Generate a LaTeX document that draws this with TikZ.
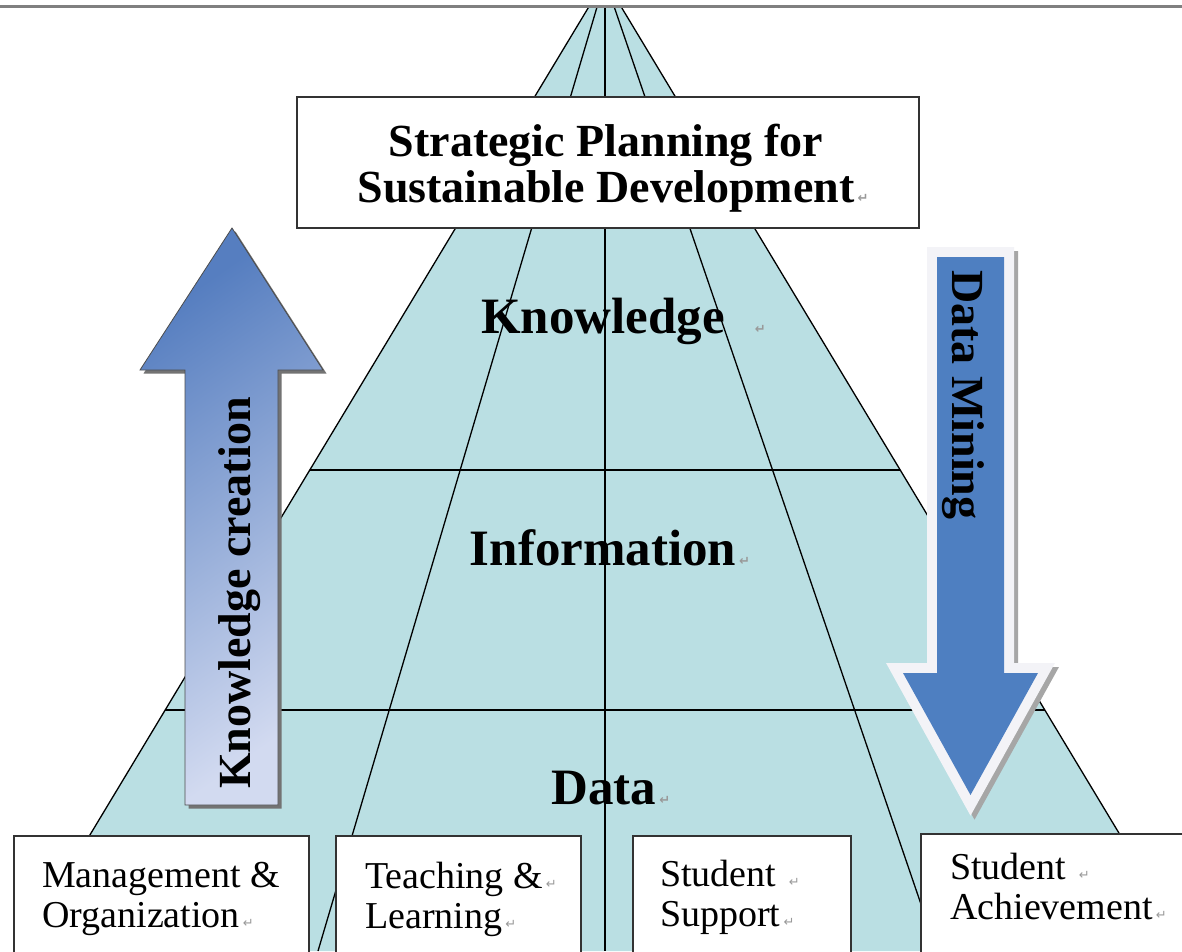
\documentclass[tikz,border=0pt]{standalone}
\usepackage{fontspec}
\setmainfont{Liberation Serif}
\newfontfamily\symfont{DejaVu Sans}
\definecolor{pyr}{RGB}{186,223,227}
\definecolor{dmblue}{RGB}{78,127,193}
\definecolor{dmrim}{RGB}{243,243,247}
\definecolor{kcdark}{RGB}{86,126,192}
\definecolor{kclight}{RGB}{210,218,240}
\definecolor{topgray}{RGB}{128,128,128}
\newcommand\retmarkat[1]{\rlap{\hspace{#1}{\symfont\fontsize{13}{13}\selectfont\textcolor{black!40}{↵}}}}
\newcommand\retmark{\retmarkat{3pt}}
\tikzset{
  pline/.style={black, line width=1.3},
  boxstyle/.style={draw=black!80, line width=1.6, fill=white, anchor=north west, inner sep=0},
  lvl/.style={font=\bfseries\fontsize{51}{51}\selectfont, anchor=base, inner sep=0},
  boxtext/.style={font=\fontsize{38}{40}\selectfont, align=left, anchor=north west, inner sep=0},
  arrowtext/.style={font=\bfseries\fontsize{46}{46}\selectfont, anchor=base west, inner sep=0},
}
\begin{document}
\begin{tikzpicture}[x=1pt,y=-1pt]
\useasboundingbox (0,0) rectangle (1182,951);
\clip (0,0) rectangle (1182,951);
\fill[white] (0,0) rectangle (1182,951);

% pyramid
\coordinate (apex) at (605,-20);
\coordinate (bl) at (20,951);
\coordinate (br) at (1190,951);
\coordinate (il) at (318,951);
\coordinate (ir) at (937,951);
\coordinate (md) at (605,951);
\coordinate (h1l) at (309.8,470);
\coordinate (h1r) at (900.2,470);
\coordinate (h2l) at (165.2,710);
\coordinate (h2r) at (1044.8,710);
\begin{scope}
  \clip (0,6) rectangle (1182,951);
  \fill[pyr] (apex) -- (bl) -- (br) -- cycle;
  \draw[pline] (apex) -- (bl);
  \draw[pline] (apex) -- (br);
  \draw[pline] (apex) -- (il);
  \draw[pline] (apex) -- (ir);
  \draw[pline] (apex) -- (md);
  \draw[pline] (h1l) -- (h1r);
  \draw[pline] (h2l) -- (h2r);
\end{scope}
\draw[topgray, line width=3] (0,6) -- (1182,6);

% strategic box
\node[draw=black!80, line width=1.8, fill=white, minimum width=622, minimum height=131,
      inner sep=0] (sp) at (608,162.5) {};
\node[align=center, inner sep=0, font=\bfseries\fontsize{46}{46}\selectfont] (sptext) at (606,168)
  {Strategic Planning for\\Sustainable Development\retmark};

% level labels
\node[lvl] (know) at (603,333) {Knowledge\retmarkat{30pt}};
\node[lvl] (info) at (603,565) {Information\retmark};
\node[lvl] (data) at (604,804) {Data\retmark};

% knowledge creation arrow
\fill[black!55, shift={(3.5,3.5)}] (185,805) -- (185,370) -- (140,370) -- (232,228) -- (323,370) -- (278,370) -- (278,805) -- cycle;
\shade[top color=kcdark, bottom color=kclight, shading angle=35, draw=black!70, line width=0.8]
  (185,805) -- (185,370) -- (140,370) -- (232,228) -- (323,370) -- (278,370) -- (278,805) -- cycle;
\node[arrowtext, rotate=90] (kc) at (250,789) {Knowledge creation};

% data mining arrow
\path[draw=black!35, fill=black!35, line width=20, miter limit=10, shift={(4,4)}]
  (937,257) -- (1004,257) -- (1004,673) -- (1038,673) -- (970.5,795) -- (903,673) -- (937,673) -- cycle;
\path[draw=dmrim, fill=dmrim, line width=20, miter limit=10]
  (937,257) -- (1004,257) -- (1004,673) -- (1038,673) -- (970.5,795) -- (903,673) -- (937,673) -- cycle;
\fill[dmblue] (937,257) -- (1004,257) -- (1004,673) -- (1038,673) -- (970.5,795) -- (903,673) -- (937,673) -- cycle;
\node[arrowtext, rotate=-90] (dm) at (952,270) {Data Mining};

% bottom boxes
\node[boxstyle, minimum width=295, minimum height=140] (mo) at (13,835) {};
\node[boxstyle, minimum width=245, minimum height=140] (tl) at (335,835) {};
\node[boxstyle, minimum width=218, minimum height=140] (ss) at (632,835) {};
\node[boxstyle, minimum width=262, minimum height=140] (sa) at (920,833) {};
\node[boxtext] (motext) at (42,862) {Management \&\\Organization\retmark};
\node[boxtext] (tltext) at (365,862) {Teaching \&\retmark\\Learning\retmark};
\node[boxtext] (sstext) at (660,860) {Student \retmark\\Support\retmark};
\node[boxtext] (satext) at (950,853) {Student \retmark\\Achievement\retmark};
\end{tikzpicture}
\end{document}
